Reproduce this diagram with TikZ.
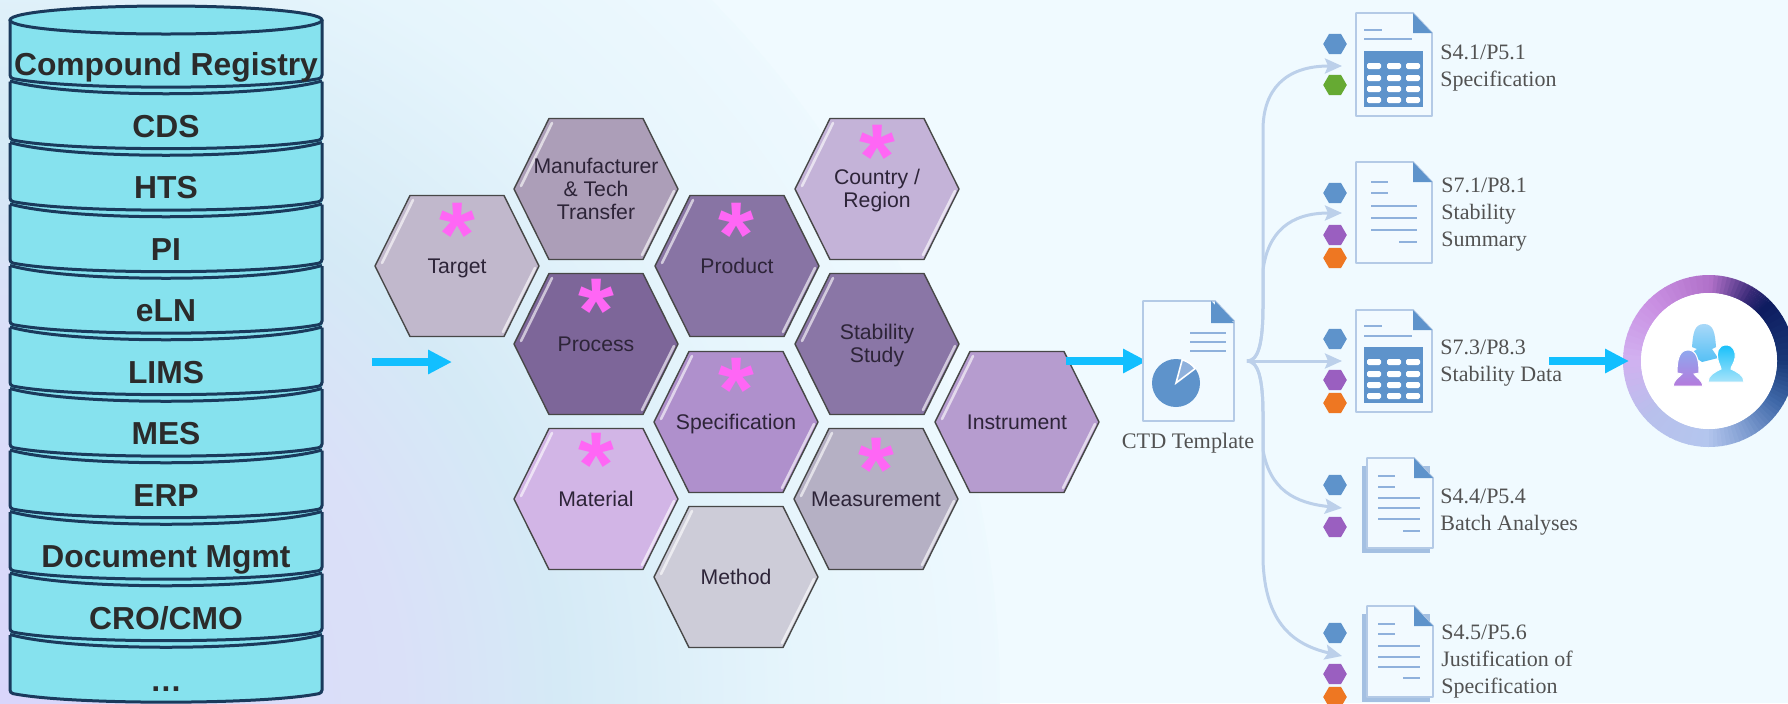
\documentclass[tikz,border=0pt]{standalone}
\usepackage{fontspec}
\setmainfont{Liberation Sans}
\newfontfamily\docfont{Liberation Serif}
\usetikzlibrary{arrows.meta,shapes.geometric}

\definecolor{bandfill}{HTML}{86E2EE}
\definecolor{bandline}{HTML}{1A3A5C}
\definecolor{flowblue}{HTML}{12BFFF}
\definecolor{forkblue}{HTML}{BCD0EA}
\definecolor{docblue}{HTML}{5E93CB}
\definecolor{docrule}{HTML}{8FB1DC}
\definecolor{docback}{HTML}{A4C0E2}
\definecolor{docedge}{HTML}{B4CAE6}
\definecolor{docpaper}{HTML}{F2FAFF}
\definecolor{starpink}{HTML}{FF66F5}
\definecolor{hexink}{HTML}{2D2438}
\definecolor{dotgreen}{HTML}{66AA33}
\definecolor{dotpurple}{HTML}{9A5FC0}
\definecolor{dotorange}{HTML}{EE7722}
\definecolor{ringa}{HTML}{D2B0F0}
\definecolor{ringb}{HTML}{C98FE2}
\definecolor{ringc}{HTML}{B070C8}
\definecolor{ringd}{HTML}{3A2A78}
\definecolor{ringe}{HTML}{0E1C60}
\definecolor{ringf}{HTML}{1A3A78}
\definecolor{ringg}{HTML}{3F68A8}
\definecolor{ringh}{HTML}{7E9CD0}
\definecolor{ringi}{HTML}{B4C6EE}
\definecolor{ringj}{HTML}{B8C0EC}
\definecolor{lead}{HTML}{A8D8F8}
\definecolor{leadlow}{HTML}{55C0F5}
\definecolor{peerleft}{HTML}{8FA8EE}
\definecolor{peerleftlow}{HTML}{B47ADC}
\definecolor{peerright}{HTML}{18C0FA}
\definecolor{peerrightlow}{HTML}{A8E4FA}
\definecolor{washa}{HTML}{D9D6FB}
\definecolor{washb}{HTML}{DAE0F8}
\definecolor{washc}{HTML}{D5EAF6}
\definecolor{washd}{HTML}{E6F5FC}
\definecolor{washe}{HTML}{F0FAFF}

\pgfdeclareradialshading{backwash}{\pgfpointorigin}{color(0bp)=(washa);color(10bp)=(washb);
    color(14bp)=(washc);color(20bp)=(washd);color(27bp)=(washe);color(50bp)=(washe)}

\tikzset{
    bandedge/.style={bandline,line width=1.5pt,rounded corners=1.5pt},
    bandtext/.style={font=\fontsize{15.9}{18}\selectfont\bfseries,text=black!83,anchor=base},
    hexcell/.style={draw=black!72,line width=0.7pt,line join=round},
    hexshine/.style={white,opacity=0.62,line width=1.3pt,line cap=round},
    hextext/.style={font=\fontsize{10.6}{11.5}\selectfont,text=hexink,align=center},
    hexstar/.style={font=\fontsize{46}{46}\selectfont\bfseries,text=starpink,inner sep=0pt},
    flowarrow/.style={flowblue,line width=4pt,-{Triangle[length=12pt,width=11.5pt]}},
    forkline/.style={forkblue,line width=1.5pt,-{Stealth[length=8.5pt,width=7.5pt,inset=1.5pt]}},
    hexdot/.style={regular polygon,regular polygon sides=6,minimum size=11.8pt,inner sep=0pt},
    docsheet/.style={draw=docedge,line width=0.9pt,fill=docpaper,line join=round},
    docline/.style={docrule,line width=1pt},
    doctext/.style={font=\docfont\fontsize{11}{13.5}\selectfont,text=black!68,align=left,anchor=west,inner sep=0pt}
}

\newcommand{\docpage}[4]{
    \draw [ docsheet ] (#1,#2) -- (#3-19,#2) -- (#3,#2+20) -- (#3,#4) -- (#1,#4) -- cycle;
    \fill [ docblue ] (#3-19,#2) -- (#3,#2+20) -- (#3-19,#2+20) -- cycle;
}
\newcommand{\doctable}[2]{
    \fill [ docblue ] (#1,#2) rectangle (#1+59,#2+56);
    \foreach \cx in {3,23,42} \foreach \cy in {12,24,35,46}
        \fill [ white,rounded corners=0.8pt ] (#1+\cx,#2+\cy) rectangle (#1+\cx+14,#2+\cy+6);
}

\begin{document}
\begin{tikzpicture}[x=0.5pt,y=-0.5pt]
    \useasboundingbox (0,0) rectangle (1788,703);
    \fill [ washe ] (0,0) rectangle (1788,703);
    \begin{scope}
        \clip (0,0) rectangle (1788,703);
        \shade [ shading=backwash ] (0,703) circle [ radius=1000 ];
    \end{scope}
    \fill [ bandfill ] (10,20) -- (322,20) -- (322,693) .. controls (262,705) and (70,705) .. (10,693) -- cycle;
    \draw [ bandedge,fill=bandfill ] (166,20) ellipse [ x radius=156,y radius=14 ];
    \foreach \bandname/\bandlabel [count=\i from 0] in {registry/Compound Registry,cds/CDS,hts/HTS,pi/PI,eln/eLN,lims/LIMS,mes/MES,erp/ERP,docmgmt/Document Mgmt,cro/{CRO/CMO}} {
        \pgfmathsetmacro{\dip}{87+61.5*\i}
        \pgfmathsetmacro{\labely}{75.5+61.5*\i}
        \draw [ bandedge ] (10,\dip-6) .. controls (70,\dip+11) and (262,\dip+11) .. (322,\dip-6);
        \draw [ bandedge ] (10,\dip-67) -- (10,\dip-9) .. controls (70,\dip+3) and (262,\dip+3) .. (322,\dip-9) -- (322,\dip-67);
        \node [ bandtext ] (\bandname) at (166,\labely) {\bandlabel};
    }
    \draw [ bandedge ] (10,635) -- (10,693) .. controls (70,705) and (262,705) .. (322,693) -- (322,635);
    \node [ bandtext ] (more) at (166,691) {…};

    \coordinate (flowastart) at (372,362);
    \coordinate (flowaend) at (452,362);
    \draw [ flowarrow ] (flowastart) -- (flowaend);

    \foreach \hexname/\hexx/\hexy/\hexfill/\hexlabel in {
        target/457/266/C1B8CC/Target,
        manufacturer/596/189/AC9EB8/{Manufacturer\\\& Tech\\Transfer},
        process/596/344/7D6699/Process,
        product/737/266/8874A4/Product,
        country/877/189/C4B3D8/{Country /\\Region},
        stability/877/344/8A76A6/{Stability\\Study},
        specification/736/422/AF90CC/Specification,
        instrument/1017/422/B69CCF/Instrument,
        material/596/499/D2B5E6/Material,
        measurement/876/499/B5B0C4/Measurement,
        method/736/577/CDCCD8/Method} {
        \definecolor{hexfillcolor}{HTML}{\hexfill}
        \begin{scope}[shift={(\hexx,\hexy)}]
            \draw [ hexcell,fill=hexfillcolor ] (-82,0) -- (-47,-70.5) -- (47,-70.5) -- (82,0) -- (47,70.5) -- (-47,70.5) -- cycle;
            \draw [ hexshine ] (-75,-3) -- (-44,-66);
            \draw [ hexshine ] (78,2) -- (46,66);
        \end{scope}
        \node [ hextext ] (\hexname) at (\hexx,\hexy+2) {\vphantom{Tg}\hexlabel\vphantom{Tg}};
    }
    \foreach \starname/\starx/\stary in {stara/457/218,starb/596/294,starc/736/218,stard/877/140,stare/736/373,starf/596/448,starg/876/453}
        \node [ hexstar ] (\starname) at (\starx,\stary) {\raisebox{-24.3pt}[8pt][8pt]{*}};

    \coordinate (flowbstart) at (1066,361);
    \coordinate (flowbend) at (1147,361);
    \draw [ flowarrow ] (flowbstart) -- (flowbend);

    \docpage{1143}{301}{1234}{421}
    \fill [ docblue ] (1211,301) -- (1234,323) -- (1211,323) -- cycle;
    \foreach \ruley in {333,342,351} \draw [ docline ] (1190,\ruley) -- (1226,\ruley);
    \coordinate (pie) at (1176,383);
    \fill [ docblue ] (pie) circle [ radius=24 ];
    \draw [ white,line width=0.8pt,fill=docrule ] (pie) -- ++(-75:24) arc (-75:-37:24) -- cycle;
    \node [ font=\docfont\fontsize{11.1}{13}\selectfont,text=black!68 ] (ctd) at (1188,443) {CTD Template};

    \coordinate (fork) at (1247,361);
    \coordinate (tipa) at (1342,66);
    \coordinate (tipb) at (1342,213);
    \coordinate (tipc) at (1342,361);
    \coordinate (tipd) at (1342,508);
    \coordinate (tipe) at (1342,656);
    \draw [ forkline ] (fork) .. controls (1258,361) and (1263,345) .. (1263,305) -- (1263,130) .. controls (1263,90) and (1285,66) .. (tipa);
    \draw [ forkline ] (fork) .. controls (1258,361) and (1263,345) .. (1263,305) -- (1263,270) .. controls (1268,232) and (1290,213) .. (tipb);
    \draw [ forkline ] (fork) -- (tipc);
    \draw [ forkline ] (fork) .. controls (1258,361) and (1263,378) .. (1263,415) -- (1263,450) .. controls (1270,490) and (1295,503) .. (tipd);
    \draw [ forkline ] (fork) .. controls (1258,361) and (1263,378) .. (1263,415) -- (1263,560) .. controls (1265,625) and (1295,645) .. (tipe);

    \foreach \dotname/\doty/\dotfill in {dota/44/docblue,dotb/85/dotgreen,dotc/193/docblue,dotd/235/dotpurple,dote/258/dotorange,dotf/339/docblue,dotg/380/dotpurple,doth/403/dotorange,doti/485/docblue,dotj/527/dotpurple,dotk/633/docblue,dotl/674/dotpurple,dotm/697/dotorange}
        \node [ hexdot,fill=\dotfill ] (\dotname) at (1335,\doty) {};

    \docpage{1356}{13}{1432}{116}
    \draw [ docline ] (1364,30) -- (1382,30);
    \draw [ docline ] (1364,39) -- (1412,39);
    \doctable{1364}{51}
    \node [ doctext ] (speca) at (1440,68) {S4.1/P5.1\\Specification};

    \docpage{1356}{162}{1432}{263}
    \foreach \ruley/\rulex/\ruleend in {182/1371/1388,193/1371/1388,206/1371/1417,218/1371/1417,230/1371/1417,242/1399/1417}
        \draw [ docline ] (\rulex,\ruley) -- (\ruleend,\ruley);
    \node [ doctext ] (stabsum) at (1441,215) {S7.1/P8.1\\Stability\\Summary};

    \docpage{1356}{310}{1432}{412}
    \draw [ docline ] (1364,326) -- (1382,326);
    \draw [ docline ] (1364,336) -- (1412,336);
    \doctable{1364}{347}
    \node [ doctext ] (stabdata) at (1440,363.5) {S7.3/P8.3\\Stability Data};

    \fill [ docback ] (1362,466) rectangle (1430,553);
    \docpage{1367}{458}{1433}{548}
    \foreach \ruley/\rulex/\ruleend in {476/1378/1395,487/1378/1395,498/1378/1420,508/1378/1420,519/1378/1420,531/1403/1420}
        \draw [ docline ] (\rulex,\ruley) -- (\ruleend,\ruley);
    \node [ doctext ] (batch) at (1440,512.5) {S4.4/P5.4\\Batch Analyses};

    \fill [ docback ] (1362,614) rectangle (1430,702);
    \docpage{1367}{606}{1433}{697}
    \foreach \ruley/\rulex/\ruleend in {624/1378/1395,634/1378/1395,646/1378/1420,657/1378/1420,667/1378/1420,678/1403/1420}
        \draw [ docline ] (\rulex,\ruley) -- (\ruleend,\ruley);
    \node [ doctext ] (justify) at (1441,662) {S4.5/P5.6\\Justification of\\Specification};

    \begin{scope}
        \clip (0,0) rectangle (1788,703);
        \foreach \arcfrom/\arcto/\arcca/\arccb in {-180/-135/ringa/ringb,-135/-90/ringb/ringc,-90/-60/ringc/ringd,-60/-45/ringd/ringe,-45/0/ringe/ringf,0/30/ringf/ringg,30/60/ringg/ringh,60/90/ringh/ringi,90/135/ringi/ringj,135/180/ringj/ringa}
            \foreach \t in {0,10,...,90} {
                \pgfmathsetmacro{\arcs}{\arcfrom+(\arcto-\arcfrom)*\t/100}
                \pgfmathsetmacro{\arce}{\arcfrom+(\arcto-\arcfrom)*(\t+12)/100}
                \draw [ line width=9pt,color=\arccb!\t!\arcca ] (1709,361) ++(\arcs:77) arc (\arcs:\arce:77);
            }
    \end{scope}
    \node [ circle,fill=white,minimum size=68pt,inner sep=0pt ] (teamring) at (1709,361) {};

    \shade [ top color=lead,bottom color=leadlow ] (1704,324) .. controls (1694,324) and (1693,334) .. (1692,347) -- (1697,349) -- (1690,354) -- (1702,362) -- (1718,358) -- (1712,349) -- (1716,347) .. controls (1715,334) and (1714,324) .. (1704,324) -- cycle;
    \shade [ draw=white,line width=0.5pt,top color=peerleft,bottom color=peerleftlow ] (1688,350) .. controls (1680,350) and (1677,358) .. (1677,373) -- (1682,374) .. controls (1678,378) and (1674,380) .. (1673,386) -- (1703,386) .. controls (1702,380) and (1697,378) .. (1694,374) -- (1699,373) .. controls (1699,358) and (1696,350) .. (1688,350) -- cycle;
    \shade [ draw=white,line width=0.5pt,top color=peerright,bottom color=peerrightlow ] (1726,345) .. controls (1718,345) and (1716,353) .. (1718,360) .. controls (1719,365) and (1721,366) .. (1721,369) .. controls (1715,372) and (1708,375) .. (1708,382) -- (1744,382) .. controls (1744,375) and (1737,372) .. (1731,369) .. controls (1731,366) and (1734,364) .. (1735,358) .. controls (1736,351) and (1733,345) .. (1726,345) -- cycle;

    \coordinate (flowcstart) at (1549,361);
    \coordinate (flowcend) at (1629,361);
    \draw [ flowarrow ] (flowcstart) -- (flowcend);
\end{tikzpicture}
\end{document}
